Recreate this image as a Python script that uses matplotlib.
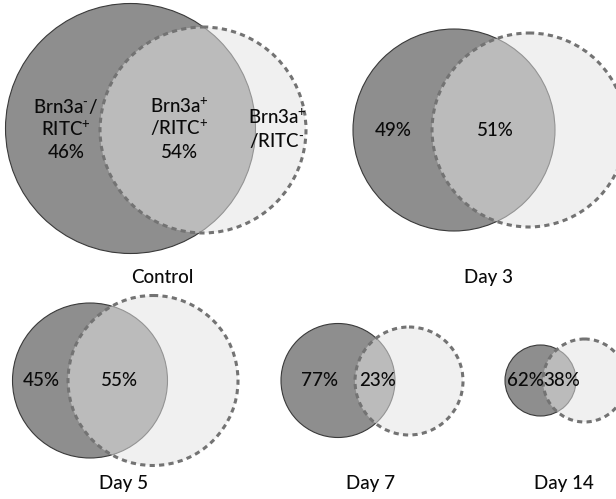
import matplotlib
matplotlib.use("Agg")
import matplotlib.pyplot as plt
from matplotlib.patches import Circle

plt.rcParams["font.family"] = ["Lato", "DejaVu Sans"]
plt.rcParams["font.weight"] = "medium"
plt.rcParams["mathtext.fontset"] = "custom"
plt.rcParams["mathtext.rm"] = "Lato:medium"
plt.rcParams["mathtext.it"] = "Lato:medium"

# ---- data -------------------------------------------------------------
panel_names = ["Control", "Day 3", "Day 5", "Day 7", "Day 14"]
pct_brn_neg = [46, 49, 45, 77, 62]   # Brn3a- / RITC+
pct_brn_pos = [54, 51, 55, 23, 38]   # Brn3a+ / RITC+

# ---- layout (figure pixel units, y down) ------------------------------
# (cx, cy, r) of the RITC+ circle (solid) and the Brn3a+ circle (dashed)
solid_geom = [(130.5, 128.5, 125), (454, 130, 101), (90, 380.5, 77.5),
              (338, 380.5, 57), (540.5, 380.5, 35.5)]
dashed_geom = [(203, 130, 103), (529, 130, 97), (153, 380.5, 85),
               (409, 381, 54), (584.5, 380.5, 41.5)]
title_baseline = [283, 283, 489, 489, 489]
title_x = [162, 489, 124, 371, 564]

W, H = 616, 499
fig = plt.figure(figsize=(W / 100, H / 100), dpi=100)
ax = fig.add_axes([0, 0, 1, 1])
ax.set_xlim(0, W)
ax.set_ylim(H, 0)
ax.set_aspect("equal")
ax.axis("off")

DARK = "#8e8e8e"
EDGE = "#3a3a3a"
LIGHT = "#e4e4e4"
DASH = "#737373"
FS = 13.5
TXT = "#0a0a0a"

for i, name in enumerate(panel_names):
    sx, sy, sr = solid_geom[i]
    dx, dy, dr = dashed_geom[i]
    ax.add_patch(Circle((sx, sy), sr, facecolor=DARK, edgecolor=EDGE,
                        lw=0.8, zorder=1))
    ax.add_patch(Circle((dx, dy), dr, facecolor=LIGHT, edgecolor="none",
                        alpha=0.53, zorder=2))
    ax.add_patch(Circle((dx, dy), dr, facecolor="none", edgecolor=DASH,
                        lw=2.2, linestyle=(0, (1.7, 1.4)), zorder=3))

    ax.text(title_x[i], title_baseline[i], name, ha="center", va="baseline",
            fontsize=FS, color=TXT, zorder=4)

    if i == 0:
        # annotated control panel
        left_lines = [r"Brn3a$^{\text{-}}$/", r"RITC$^{\text{+}}$",
                      f"{pct_brn_neg[i]}%"]
        mid_lines = [r"Brn3a$^{\text{+}}$", r"/RITC$^{\text{+}}$",
                     f"{pct_brn_pos[i]}%"]
        right_lines = [r"Brn3a$^{\text{+}}$", r"/RITC$^{\text{-}}$"]
        for k, (a, b) in enumerate(zip(left_lines, mid_lines)):
            yb = 113 + 22.5 * k
            ax.text(66, yb, a, ha="center", va="baseline", fontsize=FS,
                    color=TXT, zorder=4)
            ax.text(179, yb, b, ha="center", va="baseline", fontsize=FS,
                    color=TXT, zorder=4)
        for k, c in enumerate(right_lines):
            ax.text(277, 124 + 22.5 * k, c, ha="center", va="baseline",
                    fontsize=FS, color=TXT, zorder=4)
    else:
        left_edge = sx - sr
        dash_left = dx - dr
        solid_right = sx + sr
        ax.text((left_edge + dash_left) / 2 + 1, sy + 6, f"{pct_brn_neg[i]}%",
                ha="center", va="baseline", fontsize=FS, color=TXT,
                zorder=4)
        ax.text((dash_left + solid_right) / 2 + 2, sy + 6, f"{pct_brn_pos[i]}%",
                ha="center", va="baseline", fontsize=FS, color=TXT,
                zorder=4)

fig.savefig("out.png", dpi=100)
